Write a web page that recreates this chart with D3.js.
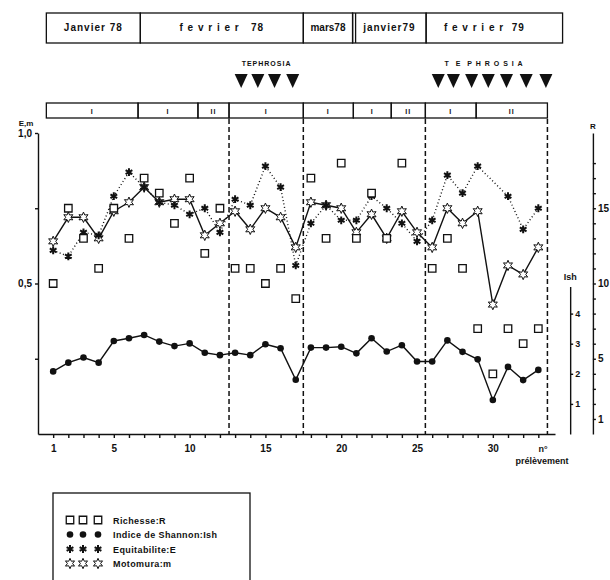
<!DOCTYPE html>
<meta charset="utf-8">
<style>
body { margin: 0; background: #fff; }
text { font-family: "Liberation Sans", Arial, sans-serif; font-weight: bold; fill: #111; }
.axis path, .axis line { stroke: #111; stroke-width: 1.4px; }
</style>
<body>
<script src="https://d3js.org/d3.v7.min.js"></script>
<script>
// n° prelevement 1..33
var samples = d3.range(1, 34);
var xLabels = [1, 5, 10, 15, 20, 25, 30];

// Richesse R (right scale), null = not plotted
var richesse = [10,15,13,11,15,13,17,16,14,17,12,15,11,11,10,11,9,17,13,18,13,16,13,18,null,11,13,11,7,4,7,6,7];
// Indice de Shannon Ish
var shannon = [2.08,2.37,2.54,2.37,3.09,3.18,3.29,3.07,2.92,3.01,2.70,2.62,2.70,2.62,2.98,2.85,1.80,2.87,2.87,2.90,2.68,3.18,2.74,2.95,2.41,2.41,3.11,2.73,2.48,1.13,2.23,1.79,2.13];
// Equitabilite E
var equit = [0.61,0.59,0.67,0.66,0.79,0.87,0.82,0.77,0.76,0.73,0.75,0.67,0.78,0.76,0.89,0.82,0.56,0.70,0.76,0.71,0.71,0.79,0.75,0.70,0.64,0.71,0.86,0.80,0.89,null,0.79,0.68,0.75];
// Motomura m
var motomura = [0.64,0.72,0.72,0.65,0.74,0.77,0.82,0.77,0.78,0.78,0.66,0.70,0.74,0.68,0.75,0.72,0.62,0.77,0.76,0.75,0.67,0.73,0.65,0.74,0.67,0.62,0.75,0.70,0.74,0.43,0.56,0.53,0.62];

// top bands (edges in sample units)
var months = ["Janvier 78", "f e v r i e r   78", "mars78", "janvier79", "f e v r i e r  79"];
var monthEdges = [0.55, 6.75, 17.5, 20.75, 25.6, 34.6];
var periods = ["I", "I", "II", "I", "I", "I", "II", "I", "II"];
var periodEdges = [0.55, 6.6, 10.55, 12.6, 17.5, 20.8, 23.3, 25.55, 28.9, 33.6];
var dividers = [12.6, 17.5, 25.55, 33.6];
var tephrosia1 = [13.4, 14.5, 15.6, 16.8];
var tephrosia2 = [26.4, 27.4, 28.6, 29.7, 30.9, 32.2, 33.5];

var legendItems = ["Richesse:R", "Indice de Shannon:Ish", "Equitabilite:E", "Motomura:m"];

var width = 610, height = 580;

var svg = d3.select("body").append("svg")
    .attr("width", width)
    .attr("height", height);

var x = d3.scaleLinear().domain([0, 34.1]).range([38, 555]);
var y = d3.scaleLinear().domain([0, 1]).range([434, 133]);
var rScale = d3.scaleLinear().domain([0, 20]).range([434, 133]);
var ishScale = d3.scaleLinear().domain([0, 10]).range([434, 133]);

// ---- month box
var mBox = svg.append("g");
mBox.selectAll("rect")
  .data(months)
  .enter().append("rect")
    .attr("x", function(d, i) { return x(monthEdges[i]); })
    .attr("y", 13)
    .attr("width", function(d, i) { return x(monthEdges[i + 1]) - x(monthEdges[i]); })
    .attr("height", 30)
    .style("fill", "none")
    .style("stroke", "#111")
    .style("stroke-width", 1.3);
// double line between mars and janvier
mBox.append("line")
    .attr("x1", x(monthEdges[3]) + 3).attr("x2", x(monthEdges[3]) + 3)
    .attr("y1", 13).attr("y2", 43)
    .style("stroke", "#111").style("stroke-width", 1.3);
mBox.selectAll("text")
  .data(months)
  .enter().append("text")
    .attr("x", function(d, i) {
      var c = (x(monthEdges[i]) + x(monthEdges[i + 1])) / 2;
      return i == 4 ? c - 10 : c;
    })
    .attr("y", 31)
    .attr("text-anchor", "middle")
    .style("white-space", "pre")
    .style("font-size", "10px")
    .style("letter-spacing", function(d, i) { return i == 2 ? "0px" : "1px"; })
    .text(function(d) { return d; });

// ---- tephrosia
svg.append("text")
    .attr("x", x(d3.mean(tephrosia1)))
    .attr("y", 66)
    .attr("text-anchor", "middle")
    .style("font-size", "7px")
    .style("letter-spacing", "1px")
    .text("TEPHROSIA");
svg.append("text")
    .attr("x", x(d3.mean(tephrosia2)) - 6)
    .attr("y", 66)
    .attr("text-anchor", "middle")
    .style("white-space", "pre")
    .style("font-size", "7px")
    .style("letter-spacing", "1px")
    .text("T  E  P H R O S I A");
svg.selectAll(".tri")
  .data(tephrosia1.concat(tephrosia2))
  .enter().append("path")
    .attr("class", "tri")
    .attr("d", "M-6.5,0L6.5,0L0,14Z")
    .attr("transform", function(d) { return "translate(" + x(d) + ",74)"; })
    .style("fill", "#111");

// ---- period box
var pBox = svg.append("g");
pBox.selectAll("rect")
  .data(periods)
  .enter().append("rect")
    .attr("x", function(d, i) { return x(periodEdges[i]); })
    .attr("y", 103)
    .attr("width", function(d, i) { return x(periodEdges[i + 1]) - x(periodEdges[i]); })
    .attr("height", 15)
    .style("fill", "none")
    .style("stroke", "#111")
    .style("stroke-width", 1.3);
pBox.selectAll("text")
  .data(periods)
  .enter().append("text")
    .attr("x", function(d, i) { return (x(periodEdges[i]) + x(periodEdges[i + 1])) / 2; })
    .attr("y", 114)
    .attr("text-anchor", "middle")
    .style("font-size", "7px")
    .style("letter-spacing", "1px")
    .text(function(d) { return d; });

// ---- dashed dividers
svg.selectAll(".div")
  .data(dividers)
  .enter().append("line")
    .attr("class", "div")
    .attr("x1", function(d) { return x(d); })
    .attr("x2", function(d) { return x(d); })
    .attr("y1", 119)
    .attr("y2", y(0))
    .style("stroke", "#111")
    .style("stroke-width", 1.5)
    .style("stroke-dasharray", "5,3");

// ---- axes
var xAxis = svg.append("g")
    .attr("class", "axis")
    .attr("transform", "translate(0," + y(0) + ")")
    .call(d3.axisBottom(x).tickValues(samples).tickSize(4).tickSizeOuter(0)
      .tickFormat(function(d) { return xLabels.indexOf(d) >= 0 ? d : ""; }));
xAxis.selectAll("text").attr("dy", "1.1em").style("font-size", "10px").style("font-family", null);

svg.append("text").attr("x", x(34.1) - 12).attr("y", y(0) + 18)
    .attr("text-anchor", "middle").style("font-size", "9px").text("n°");
svg.append("text").attr("x", x(34.1) - 13).attr("y", y(0) + 30)
    .attr("text-anchor", "middle").style("font-size", "9px").text("prélèvement");

var yAxis = svg.append("g")
    .attr("class", "axis")
    .attr("transform", "translate(" + x(0) + ",0)")
    .call(d3.axisLeft(y).tickValues([0.25, 0.5, 0.75, 1]).tickSize(3).tickSizeOuter(0)
      .tickFormat(function(d) { return d == 0.5 ? "0,5" : d == 1 ? "1,0" : ""; }));
yAxis.selectAll("text").style("font-size", "10px").style("font-family", null);
svg.append("text").attr("x", 26).attr("y", 126)
    .attr("text-anchor", "middle").style("font-size", "8px").text("E,m");

var ishAxisScale = ishScale.copy().domain([0, 4.9]).range([ishScale(0), ishScale(4.9)]);
var ishAxis = svg.append("g")
    .attr("class", "axis")
    .attr("transform", "translate(" + x(35.1) + ",0)")
    .call(d3.axisRight(ishAxisScale).tickValues([1, 2, 3, 4]).tickSize(3).tickSizeOuter(0)
      .tickFormat(d3.format("d")));
ishAxis.selectAll("text").attr("x", 5).style("font-size", "9px").style("font-family", null);
svg.append("text").attr("x", x(35.1)).attr("y", 280)
    .attr("text-anchor", "middle").style("font-size", "9px").text("Ish");

var rAxis = svg.append("g")
    .attr("class", "axis")
    .attr("transform", "translate(" + x(36.6) + ",0)")
    .call(d3.axisRight(rScale).tickValues(d3.range(1, 19)).tickSize(3).tickSizeOuter(0)
      .tickFormat(function(d) { return [1, 5, 10, 15].indexOf(d) >= 0 ? d : ""; }));
rAxis.selectAll("text").attr("x", 5).style("font-size", "10px").style("font-family", null);
svg.append("text").attr("x", x(36.6)).attr("y", 129)
    .attr("text-anchor", "middle").style("font-size", "8px").text("R");

// ---- lines
function pts(arr, sc) {
  return samples.map(function(n, i) { return { n: n, v: arr[i], sc: sc }; })
    .filter(function(d) { return d.v != null; });
}
var line = d3.line()
    .x(function(d) { return x(d.n); })
    .y(function(d) { return d.sc(d.v); });

var shPts = pts(shannon, ishScale);
var eqPts = pts(equit, y);
var moPts = pts(motomura, y);
var riPts = pts(richesse, rScale);

svg.append("path").datum(shPts).attr("d", line)
    .style("fill", "none").style("stroke", "#111").style("stroke-width", 1.4);
svg.append("path").datum(eqPts).attr("d", line)
    .style("fill", "none").style("stroke", "#111").style("stroke-width", 1.4)
    .style("stroke-dasharray", "1,2.5");
svg.append("path").datum(moPts).attr("d", line)
    .style("fill", "none").style("stroke", "#111").style("stroke-width", 1.4);

// ---- markers
var star6 = (function() {
  var p = [];
  for (var k = 0; k < 12; k++) {
    var r = k % 2 == 0 ? 5.2 : 2.6;
    var a = Math.PI / 6 * k - Math.PI / 2;
    p.push([r * Math.cos(a), r * Math.sin(a)]);
  }
  return "M" + p.join("L") + "Z";
})();
var sq = d3.symbol().type(d3.symbolSquare).size(56);
var ast = d3.symbol().type(d3.symbolAsterisk).size(42);

function drawStar(g, px, py) {
  g.append("path").attr("d", star6)
    .attr("transform", "translate(" + px + "," + py + ")")
    .style("fill", "#fff").style("stroke", "#111").style("stroke-width", 1);
}
function drawAst(g, px, py) {
  g.append("path").attr("d", ast)
    .attr("transform", "translate(" + px + "," + py + ")")
    .style("fill", "none").style("stroke", "#111").style("stroke-width", 2);
}
function drawSq(g, px, py) {
  g.append("path").attr("d", sq)
    .attr("transform", "translate(" + px + "," + py + ")")
    .style("fill", "#fff").style("stroke", "#111").style("stroke-width", 1.3);
}
function drawDot(g, px, py) {
  g.append("circle").attr("cx", px).attr("cy", py).attr("r", 3.3).style("fill", "#111");
}

var marks = svg.append("g");
moPts.forEach(function(d) { drawStar(marks, x(d.n), y(d.v)); });
eqPts.forEach(function(d) { drawAst(marks, x(d.n), y(d.v)); });
shPts.forEach(function(d) { drawDot(marks, x(d.n), ishScale(d.v)); });
riPts.forEach(function(d) { drawSq(marks, x(d.n), rScale(d.v)); });

// ---- legend
var leg = svg.append("g");
leg.append("rect")
    .attr("x", 53).attr("y", 493).attr("width", 197).attr("height", 120)
    .style("fill", "none").style("stroke", "#111").style("stroke-width", 1.3);
var drawers = [drawSq, drawDot, drawAst, drawStar];
legendItems.forEach(function(t, i) {
  var ly = 520 + i * 14.5;
  [70, 83, 98].forEach(function(lx) { drawers[i](leg, lx, ly); });
  leg.append("text")
      .attr("x", 113).attr("y", ly + 3.5)
      .style("font-size", "9px")
      .style("letter-spacing", "0.4px")
      .text(t);
});
</script>
</body>
